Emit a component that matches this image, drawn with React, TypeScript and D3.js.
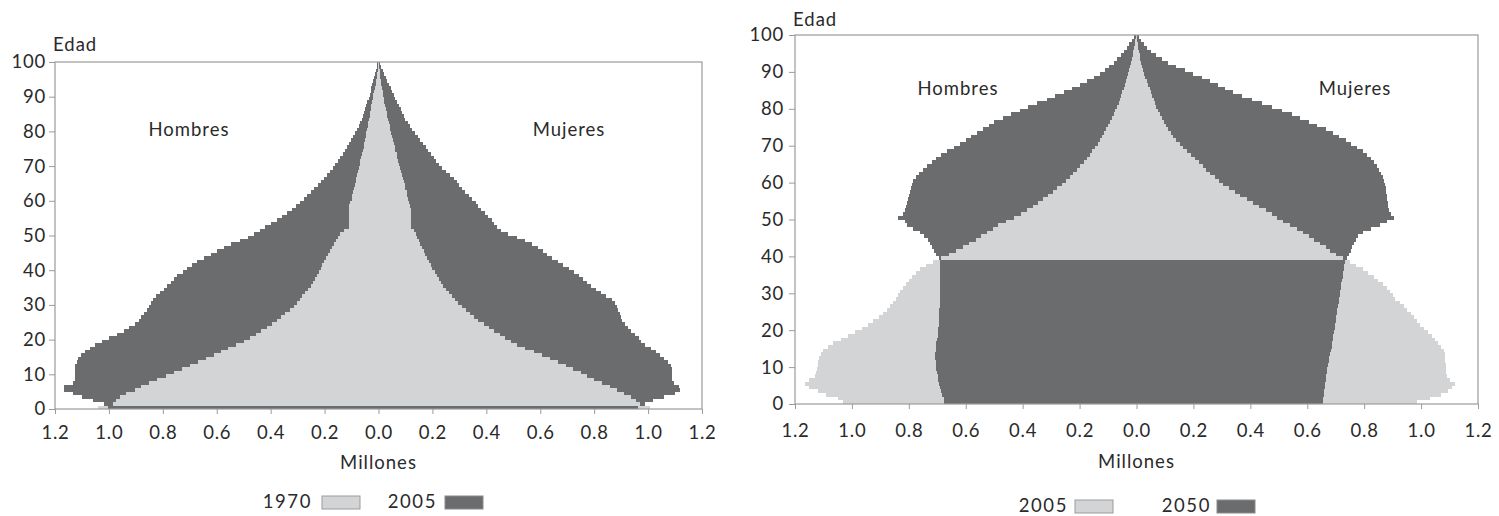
import * as d3 from 'd3';
import React, { useRef, useEffect } from 'react';

// single-year age groups 0..99
const edades = d3.range(0, 100);
const ticksEdad = [0, 10, 20, 30, 40, 50, 60, 70, 80, 90, 100];
const ticksMillones = [-1.2, -1.0, -0.8, -0.6, -0.4, -0.2, 0, 0.2, 0.4, 0.6, 0.8, 1.0, 1.2];

// left chart: 1970 vs 2005 (millions)
const hombres1970 = [
  1.04, 0.985, 0.975, 0.96, 0.935, 0.905, 0.88, 0.85, 0.82, 0.79,
  0.76, 0.73, 0.70, 0.67, 0.64, 0.61, 0.585, 0.56, 0.53, 0.50,
  0.475, 0.455, 0.435, 0.415, 0.395, 0.375, 0.36, 0.345, 0.33, 0.315,
  0.303, 0.292, 0.282, 0.272, 0.262, 0.252, 0.244, 0.236, 0.229, 0.222,
  0.215, 0.208, 0.201, 0.194, 0.187, 0.18, 0.173, 0.166, 0.158, 0.15,
  0.142, 0.128, 0.11, 0.11, 0.11, 0.11, 0.11, 0.11, 0.108, 0.104,
  0.10, 0.097, 0.094, 0.091, 0.088, 0.085, 0.082, 0.079, 0.076, 0.073,
  0.07, 0.067, 0.064, 0.061, 0.058, 0.055, 0.052, 0.05, 0.047, 0.045,
  0.043, 0.04, 0.038, 0.035, 0.033, 0.03, 0.028, 0.026, 0.023, 0.021,
  0.019, 0.016, 0.014, 0.011, 0.009, 0.006, 0.004, 0.003, 0.002, 0.001,
];
const hombres2005a = [
  1.005, 1.02, 1.06, 1.1, 1.135, 1.165, 1.165, 1.135, 1.125, 1.125,
  1.125, 1.125, 1.125, 1.12, 1.115, 1.105, 1.09, 1.07, 1.05, 1.025,
  1.0, 0.97, 0.945, 0.925, 0.905, 0.89, 0.88, 0.87, 0.86, 0.853,
  0.845, 0.838, 0.826, 0.81, 0.795, 0.783, 0.77, 0.758, 0.746, 0.727,
  0.709, 0.69, 0.672, 0.647, 0.622, 0.598, 0.573, 0.548, 0.515, 0.485,
  0.46, 0.44, 0.42, 0.4, 0.378, 0.357, 0.338, 0.322, 0.306, 0.291,
  0.277, 0.264, 0.25, 0.238, 0.225, 0.213, 0.201, 0.19, 0.18, 0.17,
  0.16, 0.15, 0.141, 0.133, 0.125, 0.117, 0.109, 0.101, 0.094, 0.087,
  0.08, 0.074, 0.068, 0.063, 0.058, 0.053, 0.049, 0.045, 0.041, 0.037,
  0.033, 0.029, 0.026, 0.023, 0.02, 0.016, 0.013, 0.01, 0.007, 0.005,
];
const mujeres1970 = [
  1.007, 0.97, 0.955, 0.935, 0.91, 0.885, 0.86, 0.83, 0.80, 0.775,
  0.75, 0.72, 0.695, 0.665, 0.635, 0.605, 0.575, 0.545, 0.515, 0.49,
  0.47, 0.45, 0.43, 0.41, 0.39, 0.37, 0.355, 0.34, 0.325, 0.31,
  0.295, 0.285, 0.272, 0.261, 0.25, 0.24, 0.231, 0.224, 0.216, 0.208,
  0.2, 0.193, 0.186, 0.179, 0.173, 0.167, 0.161, 0.155, 0.149, 0.143,
  0.138, 0.132, 0.12, 0.12, 0.12, 0.12, 0.12, 0.12, 0.118, 0.114,
  0.11, 0.107, 0.104, 0.1, 0.097, 0.094, 0.09, 0.087, 0.083, 0.08,
  0.077, 0.073, 0.07, 0.067, 0.063, 0.06, 0.057, 0.053, 0.05, 0.047,
  0.044, 0.041, 0.038, 0.035, 0.032, 0.03, 0.027, 0.025, 0.022, 0.02,
  0.018, 0.015, 0.013, 0.011, 0.009, 0.007, 0.005, 0.004, 0.002, 0.001,
];
const mujeres2005a = [
  0.963, 0.99, 1.02, 1.06, 1.10, 1.12, 1.115, 1.095, 1.09, 1.09,
  1.09, 1.09, 1.085, 1.075, 1.06, 1.045, 1.03, 1.01, 0.99, 0.975,
  0.965, 0.95, 0.935, 0.925, 0.915, 0.905, 0.9, 0.895, 0.89, 0.885,
  0.878, 0.865, 0.845, 0.825, 0.805, 0.79, 0.775, 0.76, 0.745, 0.725,
  0.705, 0.685, 0.665, 0.645, 0.625, 0.61, 0.59, 0.57, 0.545, 0.515,
  0.48, 0.455, 0.44, 0.43, 0.42, 0.405, 0.395, 0.38, 0.37, 0.36,
  0.345, 0.335, 0.32, 0.31, 0.3, 0.29, 0.28, 0.265, 0.25, 0.235,
  0.225, 0.215, 0.205, 0.195, 0.185, 0.175, 0.165, 0.155, 0.145, 0.135,
  0.125, 0.118, 0.11, 0.1, 0.095, 0.088, 0.082, 0.075, 0.068, 0.062,
  0.057, 0.05, 0.045, 0.039, 0.033, 0.026, 0.021, 0.016, 0.011, 0.007,
];

// right chart: 2005 vs 2050 (millions)
const hombres2005b = [
  1.03, 1.05, 1.09, 1.12, 1.15, 1.165, 1.15, 1.13, 1.125, 1.122,
  1.12, 1.118, 1.115, 1.11, 1.1, 1.085, 1.065, 1.04, 1.015, 0.99,
  0.965, 0.945, 0.925, 0.905, 0.89, 0.875, 0.865, 0.855, 0.845, 0.838,
  0.83, 0.82, 0.81, 0.8, 0.79, 0.775, 0.76, 0.74, 0.715, 0.688,
  0.66, 0.635, 0.61, 0.59, 0.565, 0.545, 0.525, 0.505, 0.485, 0.46,
  0.43, 0.405, 0.385, 0.365, 0.345, 0.328, 0.31, 0.295, 0.278, 0.262,
  0.248, 0.235, 0.222, 0.21, 0.198, 0.186, 0.175, 0.165, 0.155, 0.146,
  0.137, 0.129, 0.121, 0.113, 0.106, 0.099, 0.092, 0.086, 0.08, 0.074,
  0.068, 0.063, 0.058, 0.054, 0.05, 0.045, 0.041, 0.037, 0.033, 0.029,
  0.026, 0.023, 0.02, 0.017, 0.014, 0.011, 0.008, 0.006, 0.004, 0.002,
];
const hombres2050 = [
  0.676, 0.678, 0.682, 0.686, 0.69, 0.693, 0.696, 0.699, 0.701, 0.703,
  0.705, 0.706, 0.707, 0.707, 0.706, 0.705, 0.703, 0.701, 0.699, 0.697,
  0.696, 0.695, 0.694, 0.694, 0.693, 0.693, 0.692, 0.692, 0.692, 0.691,
  0.691, 0.691, 0.69, 0.69, 0.69, 0.69, 0.69, 0.69, 0.69, 0.695,
  0.705, 0.712, 0.718, 0.725, 0.732, 0.745, 0.76, 0.785, 0.805, 0.815,
  0.838, 0.822, 0.813, 0.809, 0.806, 0.803, 0.8, 0.797, 0.793, 0.79,
  0.785, 0.775, 0.763, 0.75, 0.737, 0.72, 0.703, 0.686, 0.665, 0.642,
  0.62, 0.6, 0.58, 0.56, 0.54, 0.52, 0.5, 0.47, 0.44, 0.41,
  0.38, 0.35, 0.315, 0.285, 0.255, 0.225, 0.2, 0.175, 0.15, 0.13,
  0.11, 0.095, 0.08, 0.068, 0.055, 0.045, 0.035, 0.025, 0.017, 0.01,
];
const mujeres2005b = [
  0.985, 1.03, 1.07, 1.095, 1.11, 1.12, 1.1, 1.09, 1.088, 1.087,
  1.086, 1.085, 1.085, 1.084, 1.08, 1.07, 1.06, 1.05, 1.04, 1.025,
  1.01, 0.995, 0.985, 0.975, 0.965, 0.95, 0.94, 0.925, 0.91, 0.9,
  0.89, 0.88, 0.865, 0.85, 0.835, 0.815, 0.795, 0.77, 0.75, 0.725,
  0.7, 0.68, 0.665, 0.645, 0.625, 0.605, 0.585, 0.565, 0.54, 0.515,
  0.495, 0.475, 0.455, 0.43, 0.41, 0.39, 0.365, 0.345, 0.325, 0.305,
  0.29, 0.275, 0.26, 0.245, 0.232, 0.22, 0.205, 0.19, 0.178, 0.165,
  0.152, 0.14, 0.13, 0.12, 0.11, 0.103, 0.096, 0.089, 0.082, 0.076,
  0.07, 0.065, 0.06, 0.056, 0.051, 0.046, 0.041, 0.036, 0.031, 0.027,
  0.023, 0.02, 0.017, 0.014, 0.011, 0.009, 0.007, 0.005, 0.003, 0.002,
];
const mujeres2050 = [
  0.655, 0.657, 0.658, 0.66, 0.661, 0.663, 0.665, 0.667, 0.669, 0.671,
  0.673, 0.675, 0.678, 0.681, 0.684, 0.686, 0.688, 0.69, 0.692, 0.694,
  0.696, 0.698, 0.7, 0.702, 0.704, 0.706, 0.708, 0.71, 0.712, 0.714,
  0.716, 0.718, 0.72, 0.722, 0.724, 0.726, 0.728, 0.73, 0.733, 0.74,
  0.745, 0.752, 0.758, 0.764, 0.77, 0.78, 0.795, 0.825, 0.855, 0.88,
  0.905, 0.893, 0.886, 0.884, 0.882, 0.88, 0.879, 0.878, 0.876, 0.873,
  0.87, 0.866, 0.86, 0.852, 0.845, 0.835, 0.825, 0.81, 0.795, 0.775,
  0.755, 0.735, 0.71, 0.69, 0.665, 0.635, 0.605, 0.575, 0.545, 0.51,
  0.475, 0.44, 0.405, 0.37, 0.34, 0.31, 0.285, 0.26, 0.23, 0.2,
  0.17, 0.14, 0.11, 0.09, 0.07, 0.05, 0.038, 0.027, 0.017, 0.008,
];

const CLARO = '#d3d4d6';
const OSCURO = '#6b6c6e';
const BORDE = '#9b9b9b';
const TEXTO = '#2a2a2a';
const FUENTE = 'Lato, "Open Sans", sans-serif';
const TAMANO = 18.5;

type PyramidProps = {
  x0: number; x1: number; y0: number; y1: number;
  hombresA: number[]; hombresB: number[];
  mujeresA: number[]; mujeresB: number[];
  anioA: string; anioB: string;
  padX: number; padY: number;
  edadY: number; sexoY: number; hombresX: number; mujeresX: number;
  millonesY: number; leyendaY: number; leyendaX: number[];
};

const Pyramid = (p: PyramidProps) => {
  const gRef = useRef(null);

  useEffect(() => {
    if (!gRef.current) return;
    const g = d3.select(gRef.current);
    g.selectAll('*').remove();

    const x = d3.scaleLinear().domain([-1.2, 1.2]).range([p.x0, p.x1]);
    const y = d3.scaleLinear().domain([0, 100]).range([p.y1, p.y0]);

    // per age and side: the larger bar goes behind, the smaller one in front
    const barras: { edad: number; signo: number; v: number; c: string }[] = [];
    const lados: [number, number[], number[]][] = [[-1, p.hombresA, p.hombresB], [1, p.mujeresA, p.mujeresB]];
    lados.forEach(([signo, serieA, serieB]) => {
      edades.forEach((edad, i) => {
        const a = serieA[i], b = serieB[i];
        if (a >= b) {
          barras.push({ edad, signo, v: a, c: CLARO }, { edad, signo, v: b, c: OSCURO });
        } else {
          barras.push({ edad, signo, v: b, c: OSCURO }, { edad, signo, v: a, c: CLARO });
        }
      });
    });

    g.append('g')
      .attr('shape-rendering', 'crispEdges')
      .selectAll('rect')
      .data(barras)
      .enter()
      .append('rect')
        .attr('x', d => (d.signo < 0 ? x(-d.v) : x(0)))
        .attr('width', d => x(d.v) - x(0))
        .attr('y', d => y(d.edad + 1))
        .attr('height', d => y(d.edad) - y(d.edad + 1))
        .attr('fill', d => d.c);

    // frame
    g.append('rect')
      .attr('x', p.x0).attr('y', p.y0)
      .attr('width', p.x1 - p.x0).attr('height', p.y1 - p.y0)
      .attr('fill', 'none').attr('stroke', BORDE).attr('stroke-width', 1.2);

    // axes
    const ejeY = g.append('g')
      .attr('transform', `translate(${p.x0},0)`)
      .call(d3.axisLeft(y).tickValues(ticksEdad).tickSize(6).tickPadding(p.padY));
    const ejeX = g.append('g')
      .attr('transform', `translate(0,${p.y1})`)
      .call(d3.axisBottom(x).tickValues(ticksMillones).tickSize(5).tickPadding(p.padX)
        .tickFormat(d => d3.format('.1f')(Math.abs(+d))));
    [ejeY, ejeX].forEach(eje => {
      eje.select('.domain').remove();
      eje.selectAll('line').attr('stroke', BORDE);
      eje.attr('font-family', FUENTE).attr('font-size', TAMANO);
      eje.selectAll('text').attr('fill', TEXTO).style('letter-spacing', '0.8px');
    });

    const texto = (t: string, tx: number, ty: number, anchor = 'middle') =>
      g.append('text')
        .attr('x', tx).attr('y', ty)
        .attr('dy', '0.35em')
        .attr('text-anchor', anchor)
        .attr('font-family', FUENTE).attr('font-size', TAMANO)
        .style('letter-spacing', '1px')
        .attr('fill', TEXTO)
        .text(t);

    texto('Edad', p.x0 - 2, p.edadY, 'start');
    texto('Hombres', p.hombresX, p.sexoY);
    texto('Mujeres', p.mujeresX, p.sexoY);
    texto('Millones', x(0), p.millonesY);

    // legend
    const [tA, cA, tB, cB] = p.leyendaX;
    texto(p.anioA, tA, p.leyendaY, 'end').style('letter-spacing', '1.6px');
    texto(p.anioB, tB, p.leyendaY, 'end').style('letter-spacing', '1.6px');
    g.append('rect').attr('x', cA).attr('y', p.leyendaY - 6).attr('width', 38).attr('height', 13)
      .attr('fill', CLARO).attr('stroke', BORDE);
    g.append('rect').attr('x', cB).attr('y', p.leyendaY - 6).attr('width', 38).attr('height', 13)
      .attr('fill', OSCURO).attr('stroke', '#8a8a8a');
  }, [gRef.current]);

  return <g ref={gRef} />;
};

export default function App() {
  return (
    <svg width={1499} height={516} style={{ position: 'absolute', left: 0, top: 0, background: '#fff' }}>
      <Pyramid
        x0={55} x1={702} y0={62} y1={409}
        hombresA={hombres1970} hombresB={hombres2005a}
        mujeresA={mujeres1970} mujeresB={mujeres2005a}
        anioA="1970" anioB="2005"
        padX={12} padY={3}
        edadY={45} sexoY={130} hombresX={189} mujeresX={569}
        millonesY={463} leyendaY={502} leyendaX={[312, 322, 437, 445]}
      />
      <Pyramid
        x0={795} x1={1478} y0={35} y1={404}
        hombresA={hombres2005b} hombresB={hombres2050}
        mujeresA={mujeres2005b} mujeresB={mujeres2050}
        anioA="2005" anioB="2050"
        padX={15} padY={5}
        edadY={20} sexoY={89} hombresX={958} mujeresX={1355}
        millonesY={462} leyendaY={506} leyendaX={[1068, 1075, 1211, 1217]}
      />
    </svg>
  );
}
